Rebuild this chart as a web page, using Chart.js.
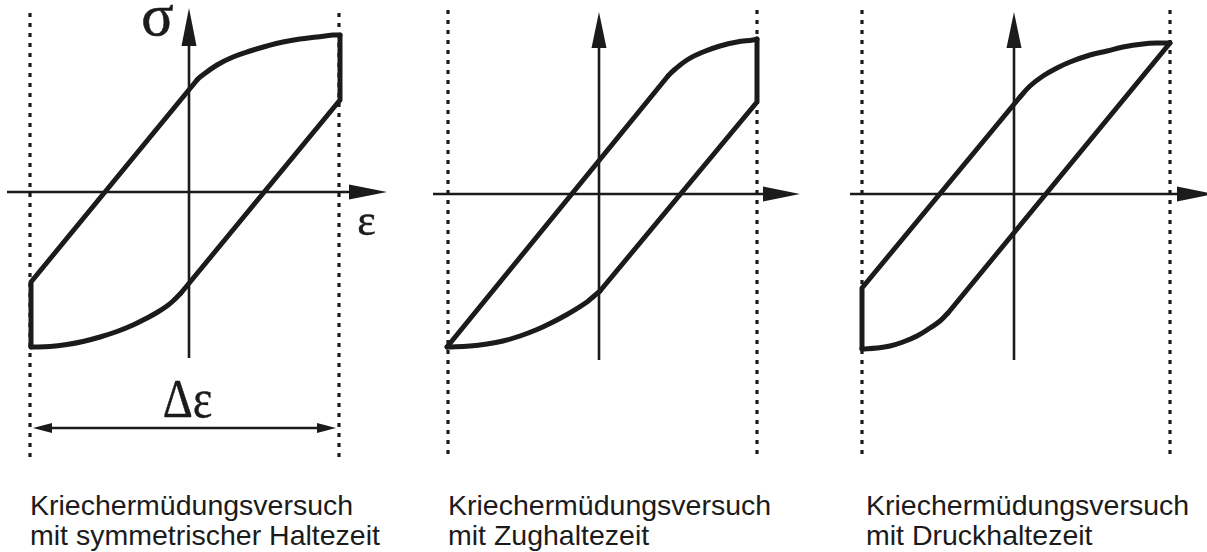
<!DOCTYPE html>
<html lang="de">
<head>
<meta charset="utf-8">
<title>Kriechermüdungsversuche – Hystereseschleifen</title>
<script src="https://cdn.jsdelivr.net/npm/chart.js@4.4.1/dist/chart.umd.min.js"></script>
<style>
  html, body { margin: 0; padding: 0; background: #fff; overflow: hidden; }
  body { width: 1207px; height: 552px; position: relative; }
  .panel { position: absolute; width: 400px; height: 470px; }
  .panel canvas { display: block; }
  .caption {
    position: absolute; top: 490px; margin: 0;
    font-family: "Liberation Sans", Arial, sans-serif; font-size: 28.5px;
    line-height: 30px; color: #1b1b1b; white-space: nowrap;
  }
</style>
</head>
<body>
<div class="panel" style="left:0;top:0"><canvas id="sym" width="400" height="470"></canvas></div>
<div class="panel" style="left:410px;top:2px"><canvas id="zug" width="400" height="470"></canvas></div>
<div class="panel" style="left:825px;top:2px"><canvas id="druck" width="400" height="470"></canvas></div>
<p class="caption" style="left:30px">Kriechermüdungsversuch<br>mit symmetrischer Haltezeit</p>
<p class="caption" style="left:448px">Kriechermüdungsversuch<br>mit Zughaltezeit</p>
<p class="caption" style="left:866px">Kriechermüdungsversuch<br>mit Druckhaltezeit</p>

<script>
// ---- Schleife 1: symmetrische Haltezeit (Dehnung ε, Spannung σ, normiert) ----
const symRiseEps = [-1.58, -1.58, 0.08];
const symRiseSig = [-1.55, -0.90, 1.12];
const symTopEps  = [0.08, 0.11, 0.28, 0.44, 0.61, 0.78, 0.94, 1.11, 1.28, 1.44, 1.51];
const symTopSig  = [1.12, 1.15, 1.27, 1.35, 1.41, 1.46, 1.50, 1.53, 1.55, 1.57, 1.57];
const symFallEps = [1.51, 1.51, -0.08];
const symFallSig = [1.57, 0.92, -1.01];
const symBotEps  = [-0.08, -0.16, -0.22, -0.32, -0.42, -0.56, -0.72, -0.89, -1.06, -1.22, -1.39, -1.58];
const symBotSig  = [-1.01, -1.09, -1.14, -1.205, -1.26, -1.33, -1.395, -1.45, -1.495, -1.525, -1.545, -1.55];
const symLimits  = [-1.59, 1.50];          // ε-Grenzen (gepunktet)
const symLimitSig = [1.79, -2.68];
const symEpsAxis = [-1.82, 1.61];
const symSigAxis = [-1.66, 1.47];
const symRange   = [-1.56, 1.47];          // Δε

// ---- Schleife 2: Zughaltezeit ----
const zugRiseEps = [-1.52, 0.69];
const zugRiseSig = [-1.53, 1.18];
const zugTopEps  = [0.69, 0.74, 0.88, 1.04, 1.21, 1.38, 1.54, 1.58];
const zugTopSig  = [1.18, 1.23, 1.34, 1.42, 1.48, 1.52, 1.54, 1.55];
const zugFallEps = [1.58, 1.58, 0.01];
const zugFallSig = [1.55, 0.92, -0.97];
const zugBotEps  = [0.01, -0.06, -0.12, -0.22, -0.32, -0.46, -0.62, -0.79, -0.96, -1.12, -1.29, -1.52];
const zugBotSig  = [-0.97, -1.03, -1.08, -1.145, -1.205, -1.28, -1.355, -1.42, -1.47, -1.50, -1.52, -1.53];
const zugLimits  = [-1.51, 1.58];
const zugLimitSig = [1.84, -2.61];
const zugEpsAxis = [-1.66, 1.65];
const zugSigAxis = [-1.66, 1.47];

// ---- Schleife 3: Druckhaltezeit ----
const druckFallEps = [1.56, -0.66];
const druckFallSig = [1.51, -1.19];
const druckBotEps  = [-0.66, -0.74, -0.84, -0.97, -1.11, -1.24, -1.37, -1.52];
const druckBotSig  = [-1.19, -1.27, -1.34, -1.42, -1.48, -1.52, -1.54, -1.55];
const druckRiseEps = [-1.52, -1.52, 0.06];
const druckRiseSig = [-1.55, -0.94, 0.97];
const druckTopEps  = [0.06, 0.16, 0.29, 0.43, 0.56, 0.76, 0.93, 1.09, 1.29, 1.46, 1.56];
const druckTopSig  = [0.97, 1.08, 1.18, 1.26, 1.32, 1.39, 1.43, 1.47, 1.50, 1.51, 1.51];
const druckLimits  = [-1.52, 1.56];
const druckLimitSig = [1.84, -2.61];
const druckEpsAxis = [-1.64, 1.64];
const druckSigAxis = [-1.66, 1.47];

const INK = '#1b1b1b';

const pts = (xs, ys) => xs.map((v, i) => ({ x: v, y: ys[i] }));

function branch(xs, ys, smooth) {
  return {
    data: pts(xs, ys), showLine: true, pointRadius: 0,
    borderColor: INK, borderWidth: 5, tension: smooth ? 0.4 : 0,
    borderJoinStyle: 'round', borderCapStyle: 'round', order: 0
  };
}
function axisLine(xs, ys, head) {
  return {
    data: pts(xs, ys), showLine: true, pointRadius: 0,
    borderColor: INK, borderWidth: 2.6, borderCapStyle: 'butt',
    arrowHead: head, order: 1
  };
}
function limitLine(eps, sig) {
  return {
    data: pts([eps, eps], sig), showLine: true, pointRadius: 0,
    borderColor: INK, borderWidth: 3.2, borderDash: [4, 6], borderCapStyle: 'butt', order: 2
  };
}

// Pfeilspitzen an Achsen und Maßpfeil, über die Skalen positioniert
const arrowHeads = {
  id: 'arrowHeads',
  afterDatasetsDraw(chart) {
    const { ctx, scales: { x, y } } = chart;
    chart.data.datasets.forEach(ds => {
      const h = ds.arrowHead;
      if (!h) return;
      const d = ds.data, n = d.length;
      const ends = [];
      if (h.end) ends.push([d[n - 2], d[n - 1]]);
      if (h.start) ends.push([d[1], d[0]]);
      ends.forEach(([a, b]) => {
        const ax = x.getPixelForValue(a.x), ay = y.getPixelForValue(a.y);
        const bx = x.getPixelForValue(b.x), by = y.getPixelForValue(b.y);
        const ang = Math.atan2(by - ay, bx - ax);
        ctx.save();
        ctx.translate(bx, by);
        ctx.rotate(ang);
        ctx.beginPath();
        ctx.moveTo(-1, -h.width / 2);
        ctx.lineTo(h.length, 0);
        ctx.lineTo(-1, h.width / 2);
        ctx.closePath();
        ctx.fillStyle = INK;
        ctx.fill();
        ctx.restore();
      });
    });
  }
};

// Formelzeichen (σ, ε, Δε) an Datenpositionen
const symbolLabels = {
  id: 'symbolLabels',
  afterDatasetsDraw(chart, args, opts) {
    const { ctx, scales: { x, y } } = chart;
    (opts.items || []).forEach(it => {
      ctx.save();
      ctx.translate(x.getPixelForValue(it.x), y.getPixelForValue(it.y));
      ctx.scale(it.scaleX || 1, 1);
      ctx.font = it.font;
      ctx.fillStyle = INK;
      ctx.strokeStyle = INK;
      ctx.lineWidth = it.weight || 0;
      ctx.textAlign = 'center';
      ctx.textBaseline = 'alphabetic';
      ctx.fillText(it.text, 0, 0);
      if (it.weight) ctx.strokeText(it.text, 0, 0);
      ctx.restore();
    });
  }
};

function makeChart(id, datasets, labels) {
  return new Chart(document.getElementById(id), {
    type: 'scatter',
    data: { datasets },
    options: {
      responsive: false, animation: false, events: [],
      layout: { padding: 0 },
      scales: {
        x: { type: 'linear', display: false, min: -1.89, max: 2.11 },
        y: { type: 'linear', display: false, min: -2.78, max: 1.92 }
      },
      plugins: {
        legend: { display: false }, tooltip: { enabled: false },
        symbolLabels: { items: labels || [] }
      }
    },
    plugins: [arrowHeads, symbolLabels]
  });
}

makeChart('sym', [
  branch(symRiseEps, symRiseSig, false),
  branch(symTopEps, symTopSig, true),
  branch(symFallEps, symFallSig, false),
  branch(symBotEps, symBotSig, true),
  axisLine(symEpsAxis, [0, 0], { end: true, length: 37, width: 15 }),
  axisLine([0, 0], symSigAxis, { end: true, length: 37, width: 15 }),
  axisLine([symRange[0] + 0.18, symRange[1] - 0.18], [-2.36, -2.36],
           { start: true, end: true, length: 18, width: 10 }),
  limitLine(symLimits[0], symLimitSig),
  limitLine(symLimits[1], symLimitSig)
], [
  { text: 'σ', x: -0.315, y: 1.57, font: '60px "Liberation Serif", serif', weight: 0.6 },
  { text: 'ε', x: 1.775, y: -0.43, font: '44px "Liberation Serif", serif', weight: 0.5 },
  { text: 'Δε', x: -0.015, y: -2.25, font: '55px "Liberation Serif", serif', scaleX: 0.85, weight: 0.4 }
]);

makeChart('zug', [
  branch(zugRiseEps, zugRiseSig, false),
  branch(zugTopEps, zugTopSig, true),
  branch(zugFallEps, zugFallSig, false),
  branch(zugBotEps, zugBotSig, true),
  axisLine(zugEpsAxis, [0, 0], { end: true, length: 36, width: 15 }),
  axisLine([0, 0], zugSigAxis, { end: true, length: 35, width: 15 }),
  limitLine(zugLimits[0], zugLimitSig),
  limitLine(zugLimits[1], zugLimitSig)
]);

makeChart('druck', [
  branch(druckFallEps, druckFallSig, false),
  branch(druckBotEps, druckBotSig, true),
  branch(druckRiseEps, druckRiseSig, false),
  branch(druckTopEps, druckTopSig, true),
  axisLine(druckEpsAxis, [0, 0], { end: true, length: 36, width: 15 }),
  axisLine([0, 0], druckSigAxis, { end: true, length: 35, width: 15 }),
  limitLine(druckLimits[0], druckLimitSig),
  limitLine(druckLimits[1], druckLimitSig)
]);
</script>
</body>
</html>
